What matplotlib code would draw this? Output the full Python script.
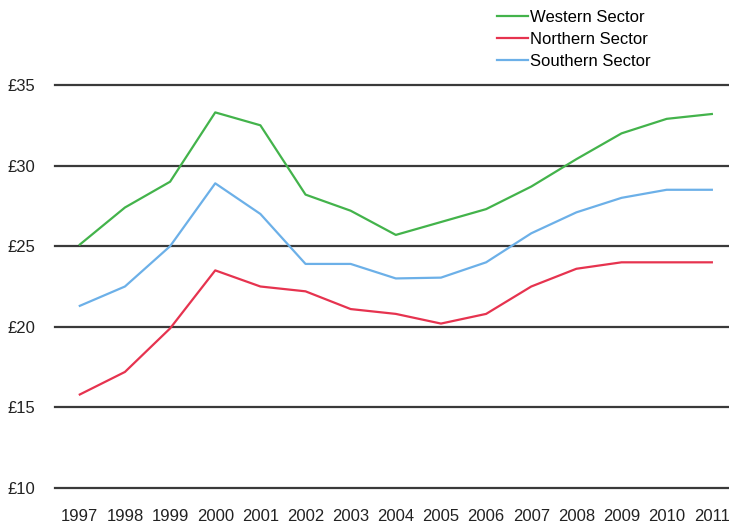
import matplotlib
matplotlib.use('Agg')
import matplotlib.pyplot as plt

plt.rcParams['font.family'] = ['Liberation Sans', 'DejaVu Sans']

# 數據
years = list(range(1997, 2012))
western = [25.1, 27.4, 29.0, 33.3, 32.5, 28.2, 27.2, 25.7, 26.5, 27.3, 28.7, 30.4, 32.0, 32.9, 33.2]
northern = [15.8, 17.2, 19.9, 23.5, 22.5, 22.2, 21.1, 20.8, 20.2, 20.8, 22.5, 23.6, 24.0, 24.0, 24.0]
southern = [21.3, 22.5, 25.0, 28.9, 27.0, 23.9, 23.9, 23.0, 23.05, 24.0, 25.8, 27.1, 28.0, 28.5, 28.5]
y_ticks = [10, 15, 20, 25, 30, 35]
y_labels = ['£10', '£15', '£20', '£25', '£30', '£35']

fig = plt.figure(figsize=(7.29, 5.24), dpi=100)
ax = fig.add_axes([0.0754, 0.0687, 0.9246, 0.7691])

# 網格線
for v in y_ticks:
    ax.axhline(v, color='#3a3a3a', linewidth=1.6, zorder=1, clip_on=False)

ax.plot(years, western, color='#43b34b', linewidth=1.6, label='Western Sector', zorder=3)
ax.plot(years, northern, color='#e6334f', linewidth=1.6, label='Northern Sector', zorder=3)
ax.plot(years, southern, color='#6cb0e8', linewidth=1.6, label='Southern Sector', zorder=3)

ax.set_xlim(1996.45, 2011.38)
ax.set_ylim(10, 35)
ax.set_xticks(years)
ax.set_xticklabels([str(y) for y in years])
ax.set_yticks(y_ticks)
ax.set_yticklabels(y_labels)
ax.tick_params(axis='both', length=0, labelsize=12, colors='#222222')
ax.tick_params(axis='x', pad=15)
ax.tick_params(axis='y', pad=14)
for s in ax.spines.values():
    s.set_visible(False)

ax.legend(loc='upper left', bbox_to_anchor=(497 / 729, 1 - 10 / 524),
          bbox_transform=fig.transFigure, frameon=False, fontsize=12,
          handlelength=1.85, handletextpad=0.15, labelspacing=0.42,
          borderaxespad=0, borderpad=0)

fig.savefig('out.png', dpi=100)
